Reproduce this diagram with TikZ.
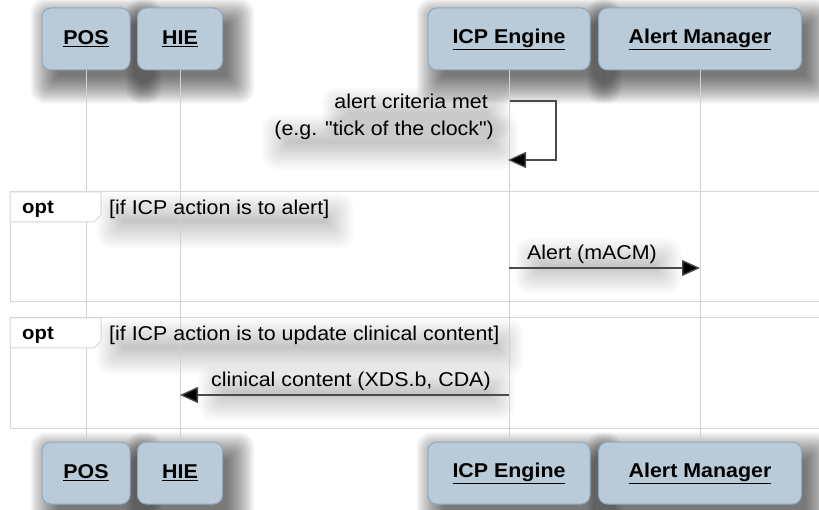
\documentclass[tikz,border=0pt]{standalone}
\usepackage{fontspec}
\setmainfont{Liberation Sans}
\newfontfamily\labfont{Liberation Sans}[FakeStretch=1.07]
\usetikzlibrary{arrows.meta,backgrounds}
\definecolor{boxfill}{HTML}{B9CBD8}
\definecolor{boxedge}{HTML}{8FA8BE}
\definecolor{lifeline}{HTML}{D2D2D2}
\definecolor{framecol}{HTML}{D6D6D6}
\definecolor{msgcol}{HTML}{4A4A4A}
\tikzset{
  actor/.style={draw=boxedge, fill=boxfill, rounded corners=9pt, line width=1pt,
    minimum height=62pt, inner sep=0pt,
    font=\labfont\bfseries\fontsize{20}{22}\selectfont},
  lline/.style={draw=lifeline, line width=0.9pt},
  msg/.style={draw=msgcol, line width=1.3pt, -{Triangle[length=18pt,width=16pt,fill=black]}},
  msglabel/.style={font=\labfont\fontsize{20}{22}\selectfont, inner sep=1pt},
  framebox/.style={draw=framecol, line width=1pt},
  tabbox/.style={draw=framecol, line width=1pt, fill=white},
  optlabel/.style={font=\labfont\bfseries\fontsize{19}{22}\selectfont, inner sep=1pt},
  guardlabel/.style={font=\labfont\fontsize{20}{22}\selectfont, inner sep=1pt},
  boxshade/.style={fill=black, opacity=0.042},
  textshade/.style={fill=black, opacity=0.014},
}
\begin{document}
\begin{tikzpicture}[x=1pt,y=-1pt]
\useasboundingbox (0,0) rectangle (819,510);
\clip (0,0) rectangle (819,510);
% frames
\draw[framebox] (10,192) rectangle (830,302);
\draw[tabbox] (10,192) -- (101,192) -- (101,215) -- (94,222) -- (10,222) -- cycle;
\draw[framebox] (10,318) rectangle (830,428);
\draw[tabbox] (10,318) -- (101,318) -- (101,341) -- (94,348) -- (10,348) -- cycle;
% actors
\node[actor, minimum width=88pt] (posT) at (86,39) {\underline{POS}};
\node[actor, minimum width=85pt] (hieT) at (180,39) {\underline{HIE}};
\node[actor, minimum width=162pt] (icpT) at (509,39) {\underline{ICP Engine}};
\node[actor, minimum width=203pt] (amT) at (700,39) {\underline{Alert Manager}};
\node[actor, minimum width=88pt] (posB) at (86,473) {\underline{POS}};
\node[actor, minimum width=85pt] (hieB) at (180,473) {\underline{HIE}};
\node[actor, minimum width=162pt] (icpB) at (509,473) {\underline{ICP Engine}};
\node[actor, minimum width=203pt] (amB) at (700,473) {\underline{Alert Manager}};
% frame labels
\node[optlabel, anchor=west] (opt1) at (21,209) {opt};
\node[guardlabel, anchor=west] (g1) at (108,209) {[if ICP action is to alert]};
\node[optlabel, anchor=west] (opt2) at (21,335) {opt};
\node[guardlabel, anchor=west] (g2) at (108,335) {[if ICP action is to update clinical content]};
% message labels
\node[msglabel, anchor=east] (t1) at (489,101) {alert criteria met};
\node[msglabel, anchor=east] (t2) at (495,130) {(e.g. "tick of the clock")};
\node[msglabel, anchor=west] (t3) at (526,254) {Alert (mACM)};
\node[msglabel, anchor=west] (t4) at (210,381) {clinical content (XDS.b, CDA)};
% shadows and lifelines behind everything
\begin{scope}[on background layer]
  \fill[white] (0,0) rectangle (819,510);
  \foreach \n in {posT,hieT,icpT,amT,posB,hieB,icpB,amB}
    \foreach \i [evaluate=\i as \r using 6+\i*1.2, evaluate=\i as \d using -6+\i*1.8] in {0,...,15}
      \fill[boxshade, rounded corners=\r pt]
        ([xshift=10pt-\d pt, yshift=-12pt+\d pt]\n.north west) rectangle
        ([xshift=10pt+\d pt, yshift=-12pt-\d pt]\n.south east);
  \foreach \n in {t1,t2,t3,t4,g1,g2}
    \foreach \i [evaluate=\i as \r using 4+\i*1.5, evaluate=\i as \d using -9+\i*2] in {0,...,13}
      \fill[textshade, rounded corners=\r pt]
        ([xshift=6pt-\d pt, yshift=-12pt+\d pt]\n.north west) rectangle
        ([xshift=6pt+\d pt, yshift=-12pt-\d pt]\n.south east);
  \draw[lline] (posT.south) -- (posB.north);
  \draw[lline] (hieT.south) -- (hieB.north);
  \draw[lline] (icpT.south) -- (icpB.north);
  \draw[lline] (amT.south) -- (amB.north);
\end{scope}
% self message
\coordinate (s1) at (510,101);
\coordinate (s2) at (556,101);
\coordinate (s3) at (556,160);
\coordinate (s4) at (508,160);
\draw[msg] (s1) -- (s2) -- (s3) -- (s4);
% alert message
\coordinate (a1) at (509,268);
\coordinate (a2) at (700,268);
\draw[msg] (a1) -- (a2);
% clinical content
\coordinate (c1) at (509,395);
\coordinate (c2) at (180,395);
\draw[msg] (c1) -- (c2);
\end{tikzpicture}
\end{document}
